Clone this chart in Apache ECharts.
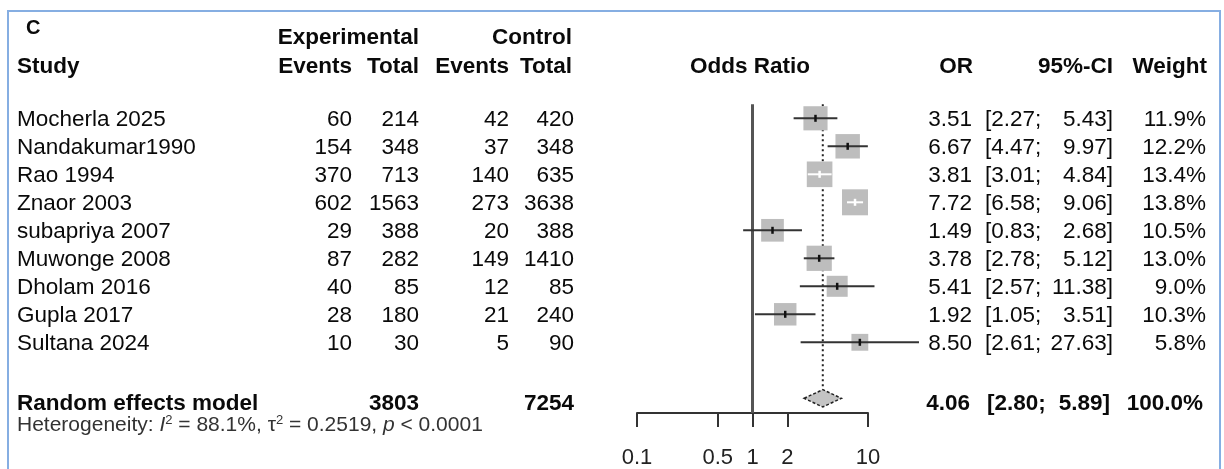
<!DOCTYPE html>
<html><head><meta charset="utf-8">
<script src="https://cdn.jsdelivr.net/npm/echarts@6/dist/echarts.min.js"></script>
<style>html,body{margin:0;padding:0;background:#fff}#c{width:1224px;height:469px}</style>
</head><body><div id="c"></div>
<script>
// ---- data ----
const studies = ['Mocherla 2025','Nandakumar1990','Rao 1994','Znaor 2003','subapriya 2007','Muwonge 2008','Dholam 2016','Gupla 2017','Sultana 2024'];
const expEvents = [60,154,370,602,29,87,40,28,10];
const expTotal = [214,348,713,1563,388,282,85,180,30];
const ctrlEvents = [42,37,140,273,20,149,12,21,5];
const ctrlTotal = [420,348,635,3638,388,1410,85,240,90];
const orValues = [3.51,6.67,3.81,7.72,1.49,3.78,5.41,1.92,8.50];
const ciLower = [2.27,4.47,3.01,6.58,0.83,2.78,2.57,1.05,2.61];
const ciUpper = [5.43,9.97,4.84,9.06,2.68,5.12,11.38,3.51,27.63];
const weights = [11.9,12.2,13.4,13.8,10.5,13.0,9.0,10.3,5.8];
const pooledOR = 4.06, pooledLower = 2.80, pooledUpper = 5.89, pooledWeight = 100.0;
const pooledExpTotal = 3803, pooledCtrlTotal = 7254;
const nullValue = 1;
const axisTicks = [0.1, 0.5, 1, 2, 10];
const hetI2 = '88.1%', hetTau2 = '0.2519', hetP = '< 0.0001';

// ---- layout ----
const ROW0 = 118.3, STEP = 28, Y_MIN = -4, Y_MAX = 10.525;
const GRID_TOP = ROW0 + Y_MIN * STEP, GRID_H = (Y_MAX - Y_MIN) * STEP;
const SUMMARY_ROW = 10;
const FONT = '"Liberation Sans", Arial, Helvetica, sans-serif';
const FS = 22.5;
const COL = {study:17, expEv:352, expTot:419, ctrlEv:509, ctrlTot:574, or:972, ciL:985, ciR:1113, w:1206};

const chart = echarts.init(document.getElementById('c'), null, {renderer:'canvas'});

function txt(api, x, row, str, align, bold, size, dy, color) {
  const p = api.coord([x, row]);
  return {type:'text', x:p[0], y:p[1] + (dy || 0), silent:true,
    style:{text:str, align:align, verticalAlign:'middle',
      font:(bold ? 'bold ' : '') + (size || FS) + 'px ' + FONT, fill:color || '#0a0a0a'}};
}

const option = {
  animation:false,
  backgroundColor:'#fff',
  grid:[
    {left:0, width:1224, top:GRID_TOP, height:GRID_H},
    {left:637, width:231, top:GRID_TOP, height:GRID_H}
  ],
  xAxis:[
    {gridIndex:0, type:'value', min:0, max:1224, show:false},
    {gridIndex:1, type:'log', logBase:10, min:0.1, max:10,
      axisLine:{show:true, onZero:false, lineStyle:{color:'#333', width:2}},
      axisTick:{show:true, length:14, lineStyle:{color:'#333', width:2}, customValues:axisTicks},
      minorTick:{show:false}, splitLine:{show:false},
      axisLabel:{customValues:axisTicks, fontSize:22, fontFamily:FONT, color:'#222', margin:34,
        formatter:v => String(+(+v).toPrecision(3))}}
  ],
  yAxis:[
    {gridIndex:0, type:'value', inverse:true, min:Y_MIN, max:Y_MAX, show:false},
    {gridIndex:1, type:'value', inverse:true, min:Y_MIN, max:Y_MAX, show:false}
  ],
  graphic:[
    {type:'rect', shape:{x:8, y:11, width:1212, height:480}, style:{fill:'none', stroke:'#86aee2', lineWidth:2}, silent:true},
    {type:'text', x:26, y:28, silent:true, style:{text:'C', fontSize:20, fontWeight:'bold', fontFamily:FONT, fill:'#0a0a0a', verticalAlign:'middle', align:'left'}}
  ],
  series:[
    // headers + summary text
    {type:'custom', xAxisIndex:0, yAxisIndex:0, data:[[0]], silent:true,
      renderItem:(params, api) => {
        const h1 = -2.88, h2 = -1.85, sr = SUMMARY_ROW + 0.2;
        const ch = [
          txt(api, COL.expTot, h1, 'Experimental', 'right', true),
          txt(api, 572, h1, 'Control', 'right', true),
          txt(api, COL.study, h2, 'Study', 'left', true),
          txt(api, COL.expEv, h2, 'Events', 'right', true),
          txt(api, COL.expTot, h2, 'Total', 'right', true),
          txt(api, COL.ctrlEv, h2, 'Events', 'right', true),
          txt(api, 572, h2, 'Total', 'right', true),
          txt(api, 750, h2, 'Odds Ratio', 'center', true),
          txt(api, 973, h2, 'OR', 'right', true),
          txt(api, 1113, h2, '95%-CI', 'right', true),
          txt(api, 1207, h2, 'Weight', 'right', true),
          txt(api, COL.study, sr, 'Random effects model', 'left', true),
          txt(api, COL.expTot, sr, String(pooledExpTotal), 'right', true),
          txt(api, COL.ctrlTot, sr, String(pooledCtrlTotal), 'right', true),
          txt(api, 970, sr, pooledOR.toFixed(2), 'right', true),
          txt(api, 987, sr, '[' + pooledLower.toFixed(2) + ';', 'left', true),
          txt(api, 1110, sr, pooledUpper.toFixed(2) + ']', 'right', true),
          txt(api, 1203, sr, pooledWeight.toFixed(1) + '%', 'right', true)
        ];
        const hp = api.coord([COL.study, SUMMARY_ROW + 0.95]);
        ch.push({type:'text', x:hp[0], y:hp[1], silent:true, style:{
          text:'Heterogeneity: {i|I}{s|2} = ' + hetI2 + ', \u03c4{s|2} = ' + hetTau2 + ', {i|p} ' + hetP,
          verticalAlign:'middle', align:'left', fontSize:21, fontFamily:FONT, fill:'#333',
          rich:{i:{fontStyle:'italic', fontSize:21, fontFamily:FONT, fill:'#333'},
                s:{fontSize:13, fontFamily:FONT, verticalAlign:'top', fill:'#333'}}}});
        return {type:'group', children:ch};
      }},
    // study rows text
    {type:'custom', xAxisIndex:0, yAxisIndex:0, silent:true,
      data:studies.map((s, i) => [i]),
      renderItem:(params, api) => {
        const i = params.dataIndex, r = api.value(0), dy = 1.8;
        return {type:'group', children:[
          txt(api, COL.study, r, studies[i], 'left', false, FS, dy),
          txt(api, COL.expEv, r, String(expEvents[i]), 'right', false, FS, dy),
          txt(api, COL.expTot, r, String(expTotal[i]), 'right', false, FS, dy),
          txt(api, COL.ctrlEv, r, String(ctrlEvents[i]), 'right', false, FS, dy),
          txt(api, COL.ctrlTot, r, String(ctrlTotal[i]), 'right', false, FS, dy),
          txt(api, COL.or, r, orValues[i].toFixed(2), 'right', false, FS, dy),
          txt(api, COL.ciL, r, '[' + ciLower[i].toFixed(2) + ';', 'left', false, FS, dy),
          txt(api, COL.ciR, r, ciUpper[i].toFixed(2) + ']', 'right', false, FS, dy),
          txt(api, COL.w, r, weights[i].toFixed(1) + '%', 'right', false, FS, dy)
        ]};
      }},
    // null line
    {type:'custom', xAxisIndex:1, yAxisIndex:1, silent:true, clip:false, z:1,
      data:[[nullValue]],
      renderItem:(params, api) => {
        const a = api.coord([api.value(0), -0.5]), b = api.coord([api.value(0), Y_MAX]);
        return {type:'line', shape:{x1:a[0], y1:a[1], x2:b[0], y2:b[1]}, style:{stroke:'#555', lineWidth:3}};
      }},
    // pooled dotted line + diamond
    {type:'custom', xAxisIndex:1, yAxisIndex:1, silent:true, clip:false, z:3,
      data:[[pooledOR, SUMMARY_ROW, pooledLower, pooledUpper]],
      renderItem:(params, api) => {
        const r = api.value(1), hh = 0.31;
        const c = api.coord([api.value(0), r]), l = api.coord([api.value(2), r]), u = api.coord([api.value(3), r]);
        const top = api.coord([api.value(0), r - hh]), bot = api.coord([api.value(0), r + hh]);
        const t0 = api.coord([api.value(0), -0.5]);
        return {type:'group', children:[
          {type:'line', shape:{x1:t0[0], y1:t0[1], x2:top[0], y2:top[1]}, style:{stroke:'#222', lineWidth:2, lineDash:[2,3]}},
          {type:'polygon', shape:{points:[[l[0], c[1]], [top[0], top[1]], [u[0], c[1]], [bot[0], bot[1]]]},
            style:{fill:'#c4c4c4', stroke:'#222', lineWidth:1.5, lineDash:[3,2]}}
        ]};
      }},
    // study boxes + CIs
    {type:'custom', xAxisIndex:1, yAxisIndex:1, silent:true, clip:false, z:4,
      data:orValues.map((v, i) => [v, i, ciLower[i], ciUpper[i], weights[i]]),
      encode:{x:[0, 2, 3], y:1},
      renderItem:(params, api) => {
        const r = api.value(1);
        const c = api.coord([api.value(0), r]), l = api.coord([api.value(2), r]), u = api.coord([api.value(3), r]);
        const s = 7.0 * Math.sqrt(api.value(4));
        const inside = l[0] >= c[0] - s / 2 && u[0] <= c[0] + s / 2;
        return {type:'group', children:[
          {type:'rect', shape:{x:c[0] - s / 2, y:c[1] - s / 2, width:s, height:s}, style:{fill:'#bdbdbd'}},
          {type:'line', shape:{x1:l[0], y1:c[1], x2:u[0], y2:c[1]}, style:{stroke:inside ? '#fff' : '#333', lineWidth:2}},
          {type:'line', shape:{x1:c[0], y1:c[1] - 3.5, x2:c[0], y2:c[1] + 3.5}, style:{stroke:inside ? '#fff' : '#111', lineWidth:2.5}}
        ]};
      }}
  ]
};
chart.setOption(option);
</script></body></html>
